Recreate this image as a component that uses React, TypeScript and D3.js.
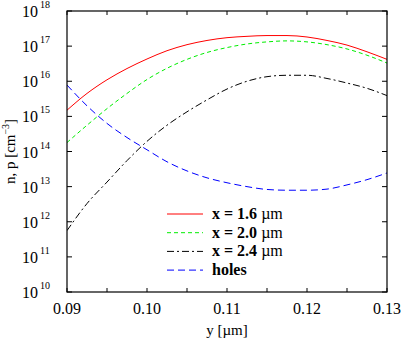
import React from "react";
import * as d3 from "d3";

const yPos = [0.09, 0.0925, 0.095, 0.0975, 0.1, 0.1025, 0.105, 0.1075, 0.11, 0.1125, 0.115, 0.1175, 0.12, 0.1225, 0.125, 0.1275, 0.13];
const nX16 = [1.5e15, 4.5e15, 1.1e16, 2.3e16, 4.3e16, 7.4e16, 1.1e17, 1.45e17, 1.74e17, 1.9e17, 2.0e17, 2.0e17, 1.82e17, 1.45e17, 1.07e17, 6.9e16, 4.2e16];
const nX20 = [1.8e14, 5.6e14, 1.66e15, 4.5e15, 1.12e16, 2.34e16, 4.2e16, 6.6e16, 9.1e16, 1.15e17, 1.32e17, 1.41e17, 1.32e17, 1.1e17, 8.3e16, 5.5e16, 3.3e16];
const nX24 = [5.6e11, 3.3e12, 1.35e13, 5.5e13, 1.95e14, 5.6e14, 1.35e15, 2.95e15, 6.0e15, 1.0e16, 1.35e16, 1.48e16, 1.48e16, 1.2e16, 8.9e15, 6.3e15, 3.9e15];
const holes = [7.8e15, 2.0e15, 6.3e14, 2.5e14, 1.12e14, 5.1e13, 2.8e13, 1.78e13, 1.29e13, 1.0e13, 8.3e12, 7.9e12, 7.9e12, 8.5e12, 1.12e13, 1.58e13, 2.45e13];

const xTicks = [0.09, 0.1, 0.11, 0.12, 0.13];
const xTickLabels = ["0.09", "0.10", "0.11", "0.12", "0.13"];
const xMinor = [0.095, 0.105, 0.115, 0.125];
const yExps = [10, 11, 12, 13, 14, 15, 16, 17, 18];

const seriesNames = ["x = 1.6", "x = 2.0", "x = 2.4", "holes"];
const seriesUnits = [" \u00b5m", " \u00b5m", " \u00b5m", ""];
const seriesData = [nX16, nX20, nX24, holes];
const seriesColors = ["#ff0000", "#00ee00", "#000000", "#0000ff"];
const seriesDash = ["", "4,3", "7,3,2,3", "7,4"];

const FONT = "Liberation Serif";

export default function App() {
  const L = 67, R = 387, T = 11, B = 292;
  const x = d3.scaleLinear().domain([0.09, 0.13]).range([L, R]);
  const y = d3.scaleLog().domain([1e10, 1e18]).range([B, T]);
  const ts = { fontFamily: FONT };

  const line = d3
    .line<[number, number]>()
    .x((d) => x(d[0]))
    .y((d) => y(d[1]))
    .curve(d3.curveMonotoneX);

  return (
    <svg width={401} height={341} style={{ position: "absolute", left: 0, top: 0, background: "#fff", fontFamily: FONT }}>
      <defs>
        <clipPath id="plot">
          <rect x={L} y={T} width={R - L} height={B - T} />
        </clipPath>
      </defs>
      <rect x={0} y={0} width={401} height={341} fill="#fff" />
      <g clipPath="url(#plot)">
        {seriesData.map((s, i) => (
          <path
            key={i}
            d={line(yPos.map((p, j) => [p, s[j]] as [number, number])) || ""}
            fill="none"
            stroke={seriesColors[i]}
            strokeWidth={1}
            strokeDasharray={seriesDash[i] || undefined}
          />
        ))}
      </g>
      <rect x={L} y={T} width={R - L} height={B - T} fill="none" stroke="#000" strokeWidth={1.2} />
      {[...xTicks, ...xMinor].map((t, i) => (
        <g key={"xt" + i}>
          <line x1={x(t)} x2={x(t)} y1={B} y2={B - 4} stroke="#000" />
          <line x1={x(t)} x2={x(t)} y1={T} y2={T + 4} stroke="#000" />
        </g>
      ))}
      {xTicks.map((t, i) => (
        <text key={"xl" + i} x={x(t)} y={B + 22} textAnchor="middle" fontSize={16} style={ts}>
          {xTickLabels[i]}
        </text>
      ))}
      {yExps.map((e) => (
        <g key={"yt" + e}>
          <line x1={L} x2={L + 5} y1={y(Math.pow(10, e))} y2={y(Math.pow(10, e))} stroke="#000" />
          <line x1={R} x2={R - 5} y1={y(Math.pow(10, e))} y2={y(Math.pow(10, e))} stroke="#000" />
          <text x={38} y={y(Math.pow(10, e)) + 6} textAnchor="end" fontSize={16} style={ts}>
            10
          </text>
          <text x={40} y={y(Math.pow(10, e)) - 3} textAnchor="start" fontSize={10} style={ts}>
            {e}
          </text>
        </g>
      ))}
      <text x={(L + R) / 2} y={335} textAnchor="middle" fontSize={15} style={ts}>
        y [{"\u00b5"}m]
      </text>
      <text transform={`translate(15,${(T + B) / 2}) rotate(-90)`} textAnchor="middle" fontSize={15} style={ts}>
        n, p [cm<tspan dy={-6} fontSize={10}>{"\u22123"}</tspan><tspan dy={6}>]</tspan>
      </text>
      {seriesNames.map((n, i) => {
        const ly = 214 + i * 18.7;
        return (
          <g key={"lg" + i}>
            <line x1={167} x2={203} y1={ly} y2={ly} stroke={seriesColors[i]} strokeWidth={1} strokeDasharray={seriesDash[i] || undefined} />
            <text x={212} y={ly + 5} fontSize={16} style={ts}>
              <tspan fontWeight="bold">{n}</tspan>
              <tspan>{seriesUnits[i]}</tspan>
            </text>
          </g>
        );
      })}
    </svg>
  );
}
